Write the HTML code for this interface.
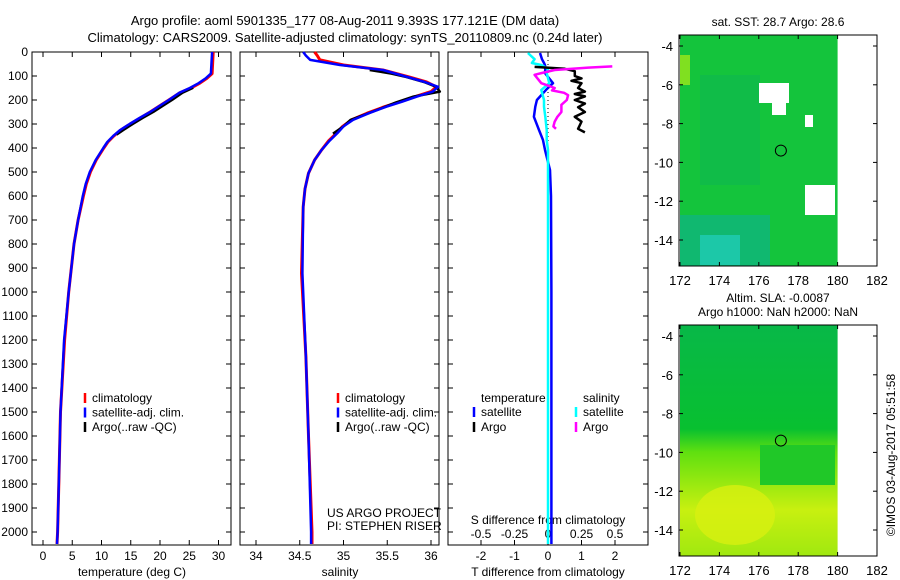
<!DOCTYPE html>
<html><head><meta charset="utf-8"><style>
body{margin:0;background:#fff;}
svg{display:block;font-family:"Liberation Sans",sans-serif;}
</style></head><body>
<svg id="c" width="900" height="580" xmlns="http://www.w3.org/2000/svg">
<text x="345" y="25" font-size="13" text-anchor="middle">Argo profile: aoml 5901335_177 08-Aug-2011 9.393S 177.121E (DM data)</text>
<text x="345" y="42" font-size="13" text-anchor="middle">Climatology: CARS2009. Satellite-adjusted climatology: synTS_20110809.nc (0.24d later)</text>
<g id="g"></g>
</svg>
<script>
// ---- data ----
const tDepth=[0,90,110,130,150,170,200,225,250,275,300,325,350,375,400,450,500,550,600,700,800,1000,1200,1500,1800,2000,2050];
const tClim=[29.1,28.9,28.0,26.8,25.3,23.4,21.5,19.9,18.3,16.6,14.9,13.3,12.1,11.1,10.4,9.1,8.1,7.4,6.9,6.0,5.3,4.4,3.7,3.0,2.7,2.5,2.4];
const tSat=[28.9,28.7,27.8,26.6,25.1,23.3,21.5,19.9,18.3,16.5,14.8,13.2,12.0,11.0,10.3,9.0,8.0,7.3,6.8,6.0,5.3,4.4,3.6,3.0,2.7,2.5,2.4];
const tArgoDepth=[150,170,200,225,250,275,300,325,345];
const tArgo=[25.7,23.9,22.1,20.5,18.9,17.1,15.4,13.8,12.6];
const sDepth=[0,15,33,54,75,104,125,145,165,186,207,228,255,283,310,338,370,408,450,505,570,645,922,1270,1600,2000,2050];
const sClim=[34.67,34.7,34.73,35.0,35.45,35.75,35.95,36.06,36.0,35.82,35.65,35.47,35.27,35.09,34.99,34.92,34.83,34.75,34.67,34.6,34.56,34.54,34.52,34.57,34.6,34.64,34.64];
const sSat=[34.54,34.57,34.62,34.96,35.45,35.73,35.93,36.08,36.02,35.84,35.67,35.49,35.29,35.11,35.0,34.93,34.84,34.75,34.67,34.6,34.56,34.54,34.53,34.57,34.6,34.63,34.63];
const sArgoDepth=[75,90,104,125,145,165,186,210,228,260,283,310,340];
const sArgo=[35.3,35.55,35.72,35.92,36.06,36.1,35.8,35.6,35.48,35.25,35.08,35.0,34.88];
const dDepth=[4,30,46,54,70,88,130,158,200,228,270,325,367,408,492,600,1000,1500,2000,2050];
const dTsat=[-0.24,-0.18,-0.12,-0.09,-0.08,-0.09,0.15,-0.06,-0.33,-0.38,-0.42,-0.27,-0.15,-0.09,0.06,0.09,0.1,0.1,0.1,0.1];
const dSsat=[-0.15,-0.1,-0.12,-0.05,0.0,-0.01,0.01,-0.05,-0.03,-0.03,-0.02,-0.01,-0.01,0.0,0.0,0.0,0.0,0.0,0.0,0.0];
const aTDepth=[62,70,80,100,110,120,130,150,165,175,185,200,215,230,250,270,290,320,335];
const aT=[-0.4,0.5,0.8,0.8,1.0,0.7,1.0,0.9,1.1,0.8,1.1,0.8,1.1,0.9,1.1,0.8,1.0,0.9,1.1];
const aSDepth=[60,65,75,88,95,130,140,150,160,170,180,200,220,250,270,290,310,320];
const aS=[0.48,0.3,0.05,-0.05,-0.1,-0.05,0.0,0.05,0.03,0.12,0.15,0.14,0.1,0.1,0.07,0.05,0.04,0.06];
const depthTicks=[0,100,200,300,400,500,600,700,800,900,1000,1100,1200,1300,1400,1500,1600,1700,1800,1900,2000];
const tTicks=[0,5,10,15,20,25,30];
const sTicks=[34,34.5,35,35.5,36];
const dtTicks=[-2,-1,0,1,2];
const dsTicks=[-0.5,-0.25,0,0.25,0.5];
const lonTicks=[172,174,176,178,180,182];
const latTicks=[-4,-6,-8,-10,-12,-14];

const NS="http://www.w3.org/2000/svg", G=document.getElementById('g');
const YB=545;
function mk(tag,a,p){const e=document.createElementNS(NS,tag);for(const k in a)e.setAttribute(k,a[k]);(p||G).appendChild(e);return e;}
const yD=d=>52+d*0.24;
const xT=v=>43+v*5.85, xS=v=>256+(v-34)*87.5, xDT=v=>548+v*33.5, xDS=v=>548+v*134;

function line(xs,ds,fx,col,w,name){
  const p=xs.map((v,i)=>fx(v).toFixed(1)+','+Math.min(YB,yD(ds[i])).toFixed(1)).join(' ');
  const e=mk('polyline',{points:p,fill:'none',stroke:col,'stroke-width':w,'stroke-linejoin':'round'});
  
  
}
function box(x0,x1,name){
  const e=mk('rect',{x:x0,y:52,width:x1-x0,height:YB-52,fill:'none',stroke:'#000','stroke-width':1});
  
  
  depthTicks.forEach(d=>{mk('line',{x1:x0,x2:x0+5,y1:yD(d),y2:yD(d),stroke:'#000'});mk('line',{x1:x1,x2:x1-5,y1:yD(d),y2:yD(d),stroke:'#000'});});
}
function xticks(ticks,fx,ylab){
  ticks.forEach(t=>{const x=fx(t);mk('line',{x1:x,x2:x,y1:YB,y2:YB-5,stroke:'#000'});mk('line',{x1:x,x2:x,y1:52,y2:57,stroke:'#000'});
   if(ylab){const e=mk('text',{x:x,y:ylab,'font-size':12,'text-anchor':'middle'});e.textContent=t;
   
   }});
}
function txt(x,y,s,name,anchor,size){const e=mk('text',{x:x,y:y,'font-size':size||12,'text-anchor':anchor||'start'});e.textContent=s;
  
  return e;}

// panel 1
box(32,231,'temperature-panel');
depthTicks.forEach(d=>{txt(28,yD(d)+4,d,'depth-tick-label','end');});
xticks(tTicks,xT,560);
txt(132,576,'temperature (deg C)','temperature-axis-title','middle');
line(tClim,tDepth,xT,'#f00',3,'temp-climatology-line');
line(tArgo,tArgoDepth,xT,'#000',2,'temp-argo-line');
line(tSat,tDepth,xT,'#00f',2.5,'temp-satellite-line');
// panel 2
box(240,439,'salinity-panel');
xticks(sTicks,xS,560);
txt(340,576,'salinity','salinity-axis-title','middle');
line(sClim,sDepth,xS,'#f00',3,'sal-climatology-line');
line(sArgo,sArgoDepth,xS,'#000',2.5,'sal-argo-line');
line(sSat,sDepth,xS,'#00f',2.5,'sal-satellite-line');
txt(327,517,'US ARGO PROJECT','project-label');
txt(327,530,'PI: STEPHEN RISER','pi-label');
// panel 3
box(448,648,'difference-panel');
mk('line',{x1:548,x2:548,y1:52,y2:180,stroke:'#000','stroke-dasharray':'1,3'});
xticks(dtTicks,xDT,560);
dsTicks.forEach(t=>{txt(xDS(t),538,t,'s-diff-tick-label','middle');});
txt(548,524,'S difference from climatology','s-diff-axis-title','middle');
txt(548,576,'T difference from climatology','t-diff-axis-title','middle');
line(dTsat,dDepth,xDT,'#00f',2.5,'tdiff-satellite-line');
line(dSsat,dDepth,xDS,'#0ff',2.5,'sdiff-satellite-line');
line(aT,aTDepth,xDT,'#000',2.5,'tdiff-argo-line');
line(aS,aSDepth,xDS,'#f0f',2.5,'sdiff-argo-line');

// legends
function leg(x,y,col,label){mk('line',{x1:x,x2:x,y1:y-9,y2:y+1,stroke:col,'stroke-width':2.5});txt(x+7,y,label,'legend-entry');}
[['climatology','#f00'],['satellite-adj. clim.','#00f'],['Argo(..raw -QC)','#000']].forEach((l,i)=>leg(85,402+i*14.5,l[1],l[0]));
[['climatology','#f00'],['satellite-adj. clim.','#00f'],['Argo(..raw -QC)','#000']].forEach((l,i)=>leg(338,402+i*14.5,l[1],l[0]));
txt(481,402,'temperature','legend-title-temperature');txt(583,402,'salinity','legend-title-salinity');
leg(474,416,'#00f','satellite');leg(474,431,'#000','Argo');
leg(576,416,'#0ff','satellite');leg(576,431,'#f0f','Argo');

// maps
function map(y0,name,bottom){
  const top=y0, h=231, xL=679, xR=877;
  const xl=v=>680+(v-172)*19.7, yl=v=>top+11+(-4-v)*19.4;
  const grp=mk('g',{});
  
  
  if(!bottom){
    mk('rect',{x:680,y:top,width:xl(180)-680,height:h,fill:'#14c43c'},grp);
    mk('rect',{x:700,y:top+40,width:60,height:110,fill:'#10bc48'},grp);
    mk('rect',{x:680,y:top+180,width:90,height:51,fill:'#10b870'},grp);
    mk('rect',{x:700,y:top+200,width:40,height:30,fill:'#1cc8a8'},grp);
    mk('rect',{x:680,y:top+20,width:10,height:30,fill:'#80e020'},grp);
    mk('rect',{x:759,y:top+48,width:30,height:20,fill:'#fff'},grp);
    mk('rect',{x:772,y:top+60,width:14,height:20,fill:'#fff'},grp);
    mk('rect',{x:805,y:top+80,width:8,height:12,fill:'#fff'},grp);
    mk('rect',{x:805,y:top+150,width:30,height:30,fill:'#fff'},grp);
  } else {
    const gr=mk('linearGradient',{id:'lg',x1:0,y1:0,x2:0,y2:1});
    [[0,'#08b848'],[0.45,'#08c030'],[0.55,'#60e010'],[0.8,'#c8f010'],[1,'#a0e810']].forEach(s=>mk('stop',{offset:s[0],'stop-color':s[1]},gr));
    mk('rect',{x:680,y:top,width:xl(180)-680,height:h,fill:'url(#lg)'},grp);
    mk('rect',{x:760,y:top+120,width:75,height:40,fill:'#20c828'},grp);
    mk('ellipse',{cx:735,cy:top+190,rx:40,ry:30,fill:'#d8f010',opacity:0.8},grp);
  }
  mk('rect',{x:xL,y:top,width:xR-xL,height:h,fill:'none',stroke:'#000'},grp);
  mk('circle',{cx:xl(177.12),cy:yl(-9.39),r:5.5,fill:'none',stroke:'#000'},grp);
  lonTicks.forEach(v=>{mk('line',{x1:xl(v),x2:xl(v),y1:top,y2:top+4,stroke:'#000'},grp);mk('line',{x1:xl(v),x2:xl(v),y1:top+h,y2:top+h-4,stroke:'#000'},grp);
    txt(xl(v),top+h+19,v,'lon-tick-label','middle',13);});
  latTicks.forEach(v=>{mk('line',{x1:xL,x2:xL+4,y1:yl(v),y2:yl(v),stroke:'#000'},grp);mk('line',{x1:xR,x2:xR-4,y1:yl(v),y2:yl(v),stroke:'#000'},grp);
    txt(673,yl(v)+5,v,'lat-tick-label','end',13);});
}
map(35,'sst-map',false);
map(325,'sla-map',true);
txt(778,26,'sat. SST: 28.7 Argo: 28.6','sst-map-title','middle');
txt(778,302,'Altim. SLA: -0.0087','sla-map-title','middle');
txt(778,316,'Argo h1000: NaN h2000: NaN','sla-map-subtitle','middle');
const cp=txt(0,0,'©IMOS 03-Aug-2017 05:51:58','imos-credit','middle');
cp.setAttribute('transform','translate(895,455) rotate(-90)');
</script>
</body></html>
